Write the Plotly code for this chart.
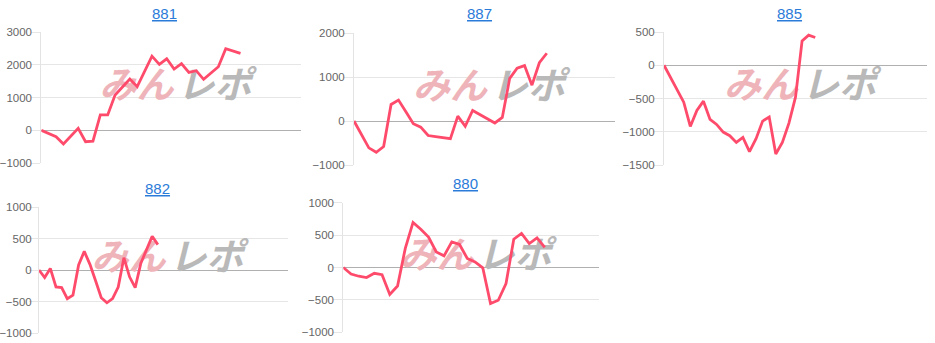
import plotly.graph_objects as go

# ---- data ----
titles = ["881", "887", "885", "882", "880"]

s881 = [0, -100, -195, -420, -180, 60, -350, -330, 470, 470, 1080, 1330, 1570, 1335,
        1800, 2270, 2020, 2190, 1875, 2040, 1775, 1825, 1560, 1750, 1945, 2500, 2430, 2355]
s887 = [0, -300, -610, -710, -580, 375, 475, 210, -60, -140, -330, -355, -380, -400,
        110, -120, 240, 140, 50, -45, 80, 970, 1200, 1260, 815, 1325, 1540]
s885 = [0, -185, -370, -555, -920, -680, -540, -815, -890, -1005, -1060, -1160, -1085,
        -1300, -1105, -840, -780, -1335, -1160, -870, -480, 367, 453, 418]
s882 = [0, -120, 25, -270, -280, -455, -400, 80, 295, 90, -170, -440, -520, -455,
        -270, 195, -108, -280, 108, 323, 537, 403]
s880 = [0, -100, -135, -155, -90, -110, -415, -285, 295, 695, 590, 470, 240, 180,
        395, 355, 140, 87, -5, -555, -505, -247, 437, 525, 370, 457, 309]

series = [s881, s887, s885, s882, s880]
x_spans = [35.2, 35.2, 40, 44, 33]            # category span of each x axis
y_ranges = [(-1000, 3000), (-1000, 2000), (-1500, 500), (-1000, 1000), (-1000, 1000)]
y_dticks = [1000, 1000, 500, 500, 500]
wm_left, wm_right = "みん", "レポ"

# ---- layout constants (pixels) ----
W, H = 935, 343
boxes = [  # left, right, top, bottom
    (41.3, 301, 32.3, 163),
    (354, 615, 33, 165),
    (664, 927, 32, 165),
    (39, 288, 207, 333),
    (343.3, 599, 202.7, 332.3),
]
title_pos = [(164.5, 13.5), (479, 13.5), (789.3, 13.5), (157.8, 188.5), (465, 183.5)]
label_standoff = [-3, -3, -3, -5, -3]

LINE = "#ff4b6b"
GRID = "#e6e6e6"
TICKC = "#666666"
TITLEC = "#2b7bd9"

fig = go.Figure()
layout = dict(width=W, height=H, margin=dict(l=0, r=0, t=0, b=0, pad=0),
              paper_bgcolor="white", plot_bgcolor="white", showlegend=False,
              hovermode=False, annotations=[])

for i, (vals, box) in enumerate(zip(series, boxes)):
    n = i + 1
    xa = "x" if n == 1 else f"x{n}"
    ya = "y" if n == 1 else f"y{n}"
    l, r, t, b = box
    x0, x1 = 0, x_spans[i]
    y0, y1 = y_ranges[i]
    # watermark (drawn first, so behind the line)
    pxx = (x1 - x0) / (r - l)
    cx = x0 + 0.54 * (x1 - x0) - 6 * pxx
    cy = y1 - 0.43 * (y1 - y0)
    fig.add_trace(go.Scatter(
        x=[cx - 39 * pxx], y=[cy], mode="text", text=[wm_left],
        textfont=dict(family="Noto Sans CJK JP", size=37, color="rgb(238,180,186)",
                      weight="bold", style="italic"),
        xaxis=xa, yaxis=ya, hoverinfo="skip"))
    fig.add_trace(go.Scatter(
        x=[cx + 39 * pxx], y=[cy], mode="text", text=[wm_right],
        textfont=dict(family="Noto Sans CJK JP", size=37, color="rgb(185,185,185)",
                      weight="bold", style="italic"),
        xaxis=xa, yaxis=ya, hoverinfo="skip"))
    fig.add_trace(go.Scatter(
        x=list(range(len(vals))), y=vals, mode="lines",
        line=dict(color=LINE, width=2.8), xaxis=xa, yaxis=ya, hoverinfo="skip"))

    xkey = "xaxis" if n == 1 else f"xaxis{n}"
    ykey = "yaxis" if n == 1 else f"yaxis{n}"
    layout[xkey] = dict(domain=[l / W, r / W], range=[x0, x1], anchor=ya,
                        showgrid=False, zeroline=False, showticklabels=False,
                        ticks="", showline=False, fixedrange=True, automargin=False)
    layout[ykey] = dict(domain=[1 - b / H, 1 - t / H], range=[y0, y1], anchor=xa,
                        dtick=y_dticks[i], tick0=0, showgrid=True, gridcolor=GRID,
                        gridwidth=1, zeroline=True, zerolinecolor="#b0b0b0",
                        zerolinewidth=1, showline=True, linecolor="#e3e3e3",
                        linewidth=1, ticks="outside", ticklen=9, tickcolor=GRID,
                        ticklabelstandoff=label_standoff[i], automargin=False,
                        tickfont=dict(family="Liberation Sans, Arial", size=11.5,
                                      color=TICKC),
                        fixedrange=True)
    tx, ty = title_pos[i]
    layout["annotations"].append(dict(
        x=tx / W, y=1 - ty / H, xref="paper", yref="paper", xanchor="center",
        yanchor="middle", showarrow=False,
        text=f"<span style='text-decoration:underline'>{titles[i]}</span>",
        font=dict(family="Liberation Sans, Arial", size=15, color=TITLEC)))

fig.update_layout(**layout)
fig.write_html("out.html", config={"displayModeBar": False})
